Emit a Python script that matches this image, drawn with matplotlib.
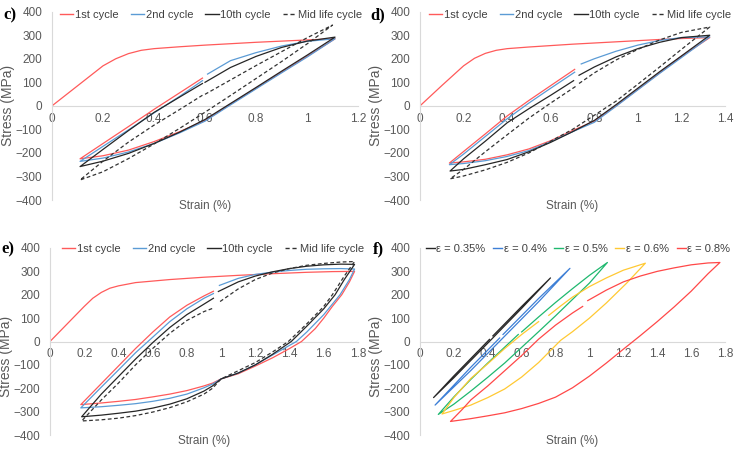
import numpy as np
import matplotlib.pyplot as plt
from matplotlib.lines import Line2D

plt.rcParams['font.family'] = ['Liberation Sans', 'DejaVu Sans']

# ---- panel c) ----
c_x_1st = [0, 0.1, 0.2, 0.25, 0.3, 0.35, 0.4, 0.5, 0.6, 0.7, 0.8, 0.9, 1.0, 1.11,
           1.0, 0.9, 0.8, 0.7, 0.6, 0.5, 0.4, 0.3, 0.2, 0.11,
           0.2, 0.3, 0.4, 0.5, 0.59]
c_y_1st = [0, 85, 170, 200, 222, 236, 243, 251, 258, 264, 270, 275, 280, 285,
           210, 143, 75, 7, -62, -110, -152, -188, -212, -225,
           -160, -88, -15, 55, 118]
c_x_2nd = [0.61, 0.7, 0.8, 0.9, 1.0, 1.11, 1.0, 0.9, 0.8, 0.7, 0.6, 0.5, 0.4, 0.3, 0.2, 0.11,
           0.2, 0.3, 0.4, 0.5, 0.59]
c_y_2nd = [135, 192, 226, 254, 274, 285, 207, 140, 72, 4, -65, -115, -160, -196, -222, -236,
           -172, -102, -30, 40, 107]
c_x_10th = [0.6, 0.7, 0.8, 0.9, 1.0, 1.11, 1.0, 0.9, 0.8, 0.7, 0.6, 0.5, 0.4, 0.3, 0.2, 0.11,
            0.2, 0.3, 0.4, 0.5, 0.59]
c_y_10th = [100, 163, 210, 248, 275, 292, 215, 147, 78, 10, -58, -112, -160, -202, -235, -258,
            -185, -105, -28, 37, 95]
c_x_mid = [0.6, 0.7, 0.8, 0.9, 1.0, 1.1, 1.0, 0.9, 0.8, 0.7, 0.6, 0.5, 0.4, 0.3, 0.2, 0.11,
           0.2, 0.3, 0.4, 0.5, 0.59]
c_y_mid = [49, 110, 171, 230, 289, 343, 263, 188, 116, 44, -27, -96, -162, -224, -280, -315,
           -235, -154, -82, -16, 45]

# ---- panel d) ----
d_x_1st = [0, 0.1, 0.2, 0.25, 0.3, 0.35, 0.4, 0.5, 0.6, 0.7, 0.8, 0.9, 1.0, 1.1, 1.2, 1.33,
           1.2, 1.1, 1.0, 0.9, 0.8, 0.7, 0.6, 0.5, 0.4, 0.3, 0.2, 0.135,
           0.2, 0.3, 0.4, 0.5, 0.6, 0.71]
d_y_1st = [0, 86, 170, 202, 223, 236, 243, 250, 256, 262, 267, 272, 277, 282, 286, 290,
           210, 140, 70, 0, -65, -105, -148, -183, -208, -227, -238, -243,
           -194, -119, -43, 23, 86, 155]
d_x_2nd = [0.74, 0.8, 0.9, 1.0, 1.1, 1.2, 1.33, 1.2, 1.1, 1.0, 0.9, 0.8, 0.7, 0.6, 0.5, 0.4, 0.3, 0.2, 0.135,
           0.2, 0.3, 0.4, 0.5, 0.6, 0.71]
d_y_2nd = [178, 200, 232, 258, 278, 290, 293, 205, 138, 68, -2, -70, -110, -152, -190, -215, -233, -245, -250,
           -205, -130, -55, 12, 75, 143]
d_x_10th = [0.73, 0.8, 0.9, 1.0, 1.1, 1.2, 1.33, 1.2, 1.1, 1.0, 0.9, 0.8, 0.7, 0.6, 0.5, 0.4, 0.3, 0.2, 0.138,
            0.2, 0.3, 0.4, 0.5, 0.6, 0.705]
d_y_10th = [130, 165, 208, 243, 270, 290, 300, 212, 145, 75, 5, -62, -110, -155, -195, -228, -250, -270, -277,
            -225, -150, -72, -12, 45, 107]
d_x_mid = [0.73, 0.8, 0.9, 1.0, 1.1, 1.2, 1.33, 1.2, 1.1, 1.0, 0.9, 0.8, 0.7, 0.6, 0.5, 0.4, 0.3, 0.2, 0.138,
           0.2, 0.3, 0.4, 0.5, 0.6, 0.72]
d_y_mid = [95, 140, 195, 240, 280, 312, 335, 240, 165, 92, 20, -40, -100, -150, -200, -240, -272, -298, -310,
           -270, -195, -123, -52, 12, 86]

# ---- panel e) ----
e_x_1st = [0, 0.1, 0.2, 0.25, 0.3, 0.35, 0.4, 0.5, 0.7, 0.9, 1.1, 1.3, 1.5, 1.65, 1.78,
           1.75, 1.705, 1.65, 1.6, 1.55, 1.47, 1.4, 1.3, 1.2, 1.1, 1.0, 0.95, 0.9, 0.8, 0.7, 0.6, 0.5, 0.4, 0.3, 0.18,
           0.3, 0.4, 0.5, 0.55, 0.6, 0.7, 0.8, 0.9, 0.955]
e_y_1st = [0, 75, 150, 185, 210, 228, 238, 252, 265, 275, 283, 290, 296, 299, 300,
           255, 200, 150, 100, 55, 0, -30, -70, -105, -138, -160, -178, -190, -210, -225, -237, -248, -256, -263, -270,
           -180, -105, -30, 5, 40, 105, 155, 195, 215]
e_x_2nd = [0.99, 1.1, 1.2, 1.3, 1.4, 1.5, 1.6, 1.7, 1.78,
           1.75, 1.695, 1.6, 1.5, 1.44, 1.3, 1.2, 1.1, 1.0, 0.95, 0.9, 0.8, 0.7, 0.6, 0.5, 0.4, 0.3, 0.18,
           0.3, 0.4, 0.5, 0.58, 0.7, 0.8, 0.9, 0.955]
e_y_2nd = [240, 270, 287, 297, 304, 309, 311, 312, 310,
           265, 200, 115, 40, 0, -58, -100, -135, -160, -182, -198, -225, -243, -256, -266, -273, -279, -284,
           -195, -122, -48, 5, 85, 140, 185, 205]
e_x_10th = [0.984, 1.1, 1.2, 1.3, 1.4, 1.5, 1.6, 1.7, 1.78,
            1.72, 1.666, 1.6, 1.5, 1.41, 1.3, 1.2, 1.1, 1.0, 0.95, 0.9, 0.8, 0.7, 0.6, 0.5, 0.4, 0.3, 0.185,
            0.3, 0.4, 0.5, 0.6, 0.7, 0.8, 0.9, 0.955]
e_y_10th = [214, 255, 280, 298, 312, 322, 328, 331, 330,
            265, 200, 140, 65, 0, -55, -100, -135, -160, -190, -212, -245, -268, -285, -298, -307, -315, -322,
            -225, -150, -75, -5, 60, 115, 160, 185]
e_x_mid = [0.994, 1.1, 1.2, 1.3, 1.4, 1.5, 1.6, 1.7, 1.78,
           1.72, 1.65, 1.6, 1.5, 1.393, 1.3, 1.2, 1.1, 1.0, 0.95, 0.9, 0.8, 0.7, 0.6, 0.5, 0.4, 0.3, 0.185,
           0.3, 0.4, 0.5, 0.6, 0.7, 0.8, 0.9, 0.955]
e_y_mid = [171, 225, 265, 293, 312, 326, 334, 340, 342,
           280, 200, 150, 75, 0, -45, -90, -125, -160, -200, -225, -258, -283, -302, -317, -328, -335, -340,
           -250, -178, -100, -30, 35, 90, 128, 143]

# ---- panel f) ----
f_x_035 = [0.43, 0.6, 0.77, 0.6, 0.4, 0.2, 0.08, 0.2, 0.41]
f_y_035 = [24, 150, 272, 142, -7, -155, -240, -147, 9]
f_x_04 = [0.49, 0.7, 0.885, 0.7, 0.5, 0.3, 0.089, 0.3, 0.47]
f_y_04 = [30, 184, 313, 170, 23, -124, -272, -110, 15]
f_x_05 = [0.6, 0.7, 0.8, 0.9, 1.0, 1.106, 1.0, 0.9, 0.8, 0.7, 0.6, 0.5, 0.4, 0.3, 0.2, 0.108,
          0.2, 0.3, 0.4, 0.5, 0.58]
f_y_05 = [41, 105, 167, 226, 283, 338, 250, 180, 110, 42, -25, -92, -153, -212, -268, -312,
          -237, -162, -92, -24, 30]
f_x_06 = [0.76, 0.83, 0.9, 1.0, 1.1, 1.2, 1.33, 1.22, 1.1, 1.0, 0.9, 0.83, 0.7, 0.6, 0.5, 0.4, 0.3, 0.2, 0.13,
          0.2, 0.3, 0.4, 0.5, 0.6, 0.7]
f_y_06 = [112, 152, 190, 235, 272, 305, 335, 250, 165, 100, 42, 5, -90, -152, -203, -240, -272, -295, -310,
          -240, -158, -95, -30, 30, 85]
f_x_08 = [0.99, 1.1, 1.2, 1.3, 1.4, 1.5, 1.6, 1.7, 1.77,
          1.7, 1.6, 1.5, 1.4, 1.3, 1.2, 1.1, 1.0, 0.9, 0.8, 0.7, 0.6, 0.5, 0.4, 0.3, 0.18,
          0.25, 0.3, 0.4, 0.5, 0.6, 0.7, 0.8, 0.9, 0.96]
f_y_08 = [175, 220, 255, 280, 300, 315, 328, 336, 338,
          290, 215, 148, 85, 25, -33, -92, -148, -198, -238, -265, -287, -305, -318, -330, -342,
          -290, -250, -190, -125, -60, 10, 70, 122, 150]

cycle_labels = ['1st cycle', '2nd cycle', '10th cycle', 'Mid life cycle']
strain_labels = ['ε = 0.35%', 'ε = 0.4%', 'ε = 0.5%', 'ε = 0.6%', 'ε = 0.8%']

RED = '#ff5a5a'
BLUE = '#5b9bd5'
BLACK = '#262626'
cycle_styles = [dict(color=RED, ls='-'), dict(color=BLUE, ls='-'),
                dict(color=BLACK, ls='-'), dict(color='#333333', ls=(0, (3, 2)))]
strain_colors = ['#262626', '#3d7fd6', '#1fb86f', '#ffc933', '#ff4848']

fig = plt.figure(figsize=(7.36, 4.5), dpi=100)


def make_ax(left, right, top, bottom):
    return fig.add_axes([left / 736, 1 - bottom / 450, (right - left) / 736, (bottom - top) / 450])


def setup(ax, xmax, ylab_y):
    ax.set_xlim(0, xmax)
    ax.set_ylim(-400, 400)
    for s in ['top', 'right']:
        ax.spines[s].set_visible(False)
    ax.spines['left'].set_color('#d9d9d9')
    ax.spines['bottom'].set_color('#d9d9d9')
    ax.spines['bottom'].set_position(('data', 0))
    ax.spines['bottom'].set_zorder(0)
    xt = np.round(np.arange(0, xmax + 0.01, 0.2), 1)
    ax.set_xticks(xt)
    ax.set_xticklabels(['%g' % v for v in xt])
    ax.set_yticks(range(-400, 401, 100))
    ax.tick_params(length=0, labelsize=8.5, colors='#595959')
    ax.tick_params(axis='x', pad=5)
    ax.tick_params(axis='y', pad=7)
    ax.set_ylabel('Stress (MPa)', fontsize=10, color='#595959')
    ax.yaxis.set_label_coords(-0.12, ylab_y)
    ax.text(0.5, -0.03, 'Strain (%)', transform=ax.transAxes, ha='center', va='center',
            fontsize=8.5, color='#595959')
    ax.patch.set_alpha(0)


def add_legend(ax, handles, labels, cx, cy, hl, cs):
    ax.legend(handles, labels, loc='center', bbox_to_anchor=(cx / 736, 1 - cy / 450),
              bbox_transform=fig.transFigure, ncol=len(labels), frameon=False, fontsize=8,
              handlelength=hl, handletextpad=0.15, columnspacing=cs, labelcolor='#404040')


cycle_handles = [Line2D([], [], lw=1, **st) for st in cycle_styles]
strain_handles = [Line2D([], [], lw=1, color=c) for c in strain_colors]

panels = [
    ((52, 358, 11.7, 200), 1.2, 'c)', (10, 15), (211, 15), 0.5,
     [(c_x_1st, c_y_1st), (c_x_2nd, c_y_2nd), (c_x_10th, c_y_10th), (c_x_mid, c_y_mid)]),
    ((420, 725, 11.7, 200), 1.4, 'd)', (378, 15), (580, 15), 0.5,
     [(d_x_1st, d_y_1st), (d_x_2nd, d_y_2nd), (d_x_10th, d_y_10th), (d_x_mid, d_y_mid)]),
    ((50, 358, 248, 435), 1.8, 'e)', (8, 249), (213, 249), 0.42,
     [(e_x_1st, e_y_1st), (e_x_2nd, e_y_2nd), (e_x_10th, e_y_10th), (e_x_mid, e_y_mid)]),
]

for rect, xmax, letter, lpos, legpos, ylab_y, curves in panels:
    ax = make_ax(*rect)
    setup(ax, xmax, ylab_y)
    for (xs, ys), st in zip(curves, cycle_styles):
        ax.plot(xs, ys, lw=0.9, **st)
    add_legend(ax, cycle_handles, cycle_labels, *legpos, hl=1.2, cs=1.1)
    fig.text(lpos[0] / 736, 1 - lpos[1] / 450, letter, fontfamily='Liberation Serif',
             fontweight='bold', fontsize=12, ha='center', va='center')

ax = make_ax(420, 725, 248, 435)
setup(ax, 1.8, 0.42)
f_curves = [(f_x_035, f_y_035), (f_x_04, f_y_04), (f_x_05, f_y_05), (f_x_06, f_y_06), (f_x_08, f_y_08)]
for (xs, ys), col in zip(f_curves, strain_colors):
    ax.plot(xs, ys, lw=0.9, color=col)
add_legend(ax, strain_handles, strain_labels, 578, 249, hl=0.8, cs=0.7)
fig.text(378 / 736, 1 - 249 / 450, 'f)', fontfamily='Liberation Serif',
         fontweight='bold', fontsize=12, ha='center', va='center')

fig.savefig('out.png', dpi=100)
